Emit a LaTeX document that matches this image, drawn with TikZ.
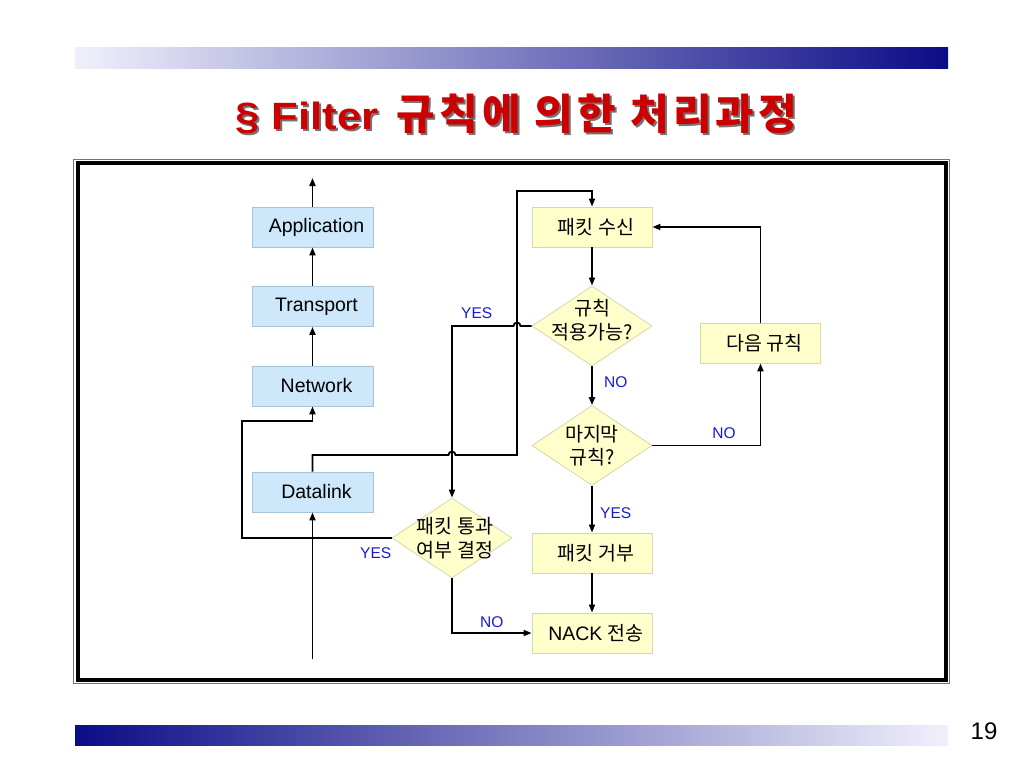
\documentclass[tikz,border=0pt]{standalone}
\usepackage{fontspec}
\setmainfont{Liberation Sans}
\newfontfamily\kr{Noto Sans CJK KR}
\newfontfamily\krtitle{Noto Sans CJK KR}[LetterSpace=10]
\newfontfamily\titlefont{Liberation Sans}[FakeStretch=1.15]
\usetikzlibrary{shapes.geometric,arrows.meta,positioning}
\definecolor{layerblue}{RGB}{204,232,250}
\definecolor{layerline}{RGB}{165,195,218}
\definecolor{stepyellow}{RGB}{255,255,204}
\definecolor{stepline}{RGB}{215,215,170}
\definecolor{navy}{RGB}{12,12,135}
\definecolor{lavender}{RGB}{240,240,252}
\definecolor{titlered}{RGB}{204,0,0}
\definecolor{labelblue}{RGB}{25,25,215}

\begin{document}
\begin{tikzpicture}[
    x=1pt, y=-1pt,
    layer/.style={rectangle, draw=layerline, fill=layerblue, line width=0.8pt, minimum width=121pt, minimum height=40pt, inner sep=0pt, font=\fontsize{19.5}{24}\selectfont, execute at begin node=\kern8pt},
    stepbox/.style={layer, draw=stepline, fill=stepyellow, minimum width=120pt},
    decision/.style={diamond, draw=stepline, fill=stepyellow, line width=0.8pt, minimum width=120pt, minimum height=80pt, inner sep=0pt},
    dtext/.style={font=\fontsize{19.5}{23.5}\selectfont\kr, align=center, inner sep=0pt},
    answer/.style={font=\fontsize{15.5}{18}\selectfont, text=labelblue, inner sep=0pt},
    heading/.style={font=\bfseries\fontsize{38}{44}\selectfont, anchor=base},
    flow/.style={-{Triangle[length=8pt,width=6pt]}, line width=1.8pt}
]

\useasboundingbox[fill=white] (0,0) rectangle (1024,768);

\shade[left color=lavender, right color=navy] (75,48) rectangle (948,68);
\shade[left color=navy, right color=lavender] (75,725) rectangle (948,745);
\node[font=\fontsize{24}{28}\selectfont] (page) at (984,731) {19};

\node[heading, text=black!55] (titleshadow) at (518.5,131.5) {\titlefont§ Filter\hspace{18pt}{\krtitle\fontsize{42}{46}\selectfont 규칙에 의한 처리과정}};
\node[heading, text=titlered] (title) at (516.5,129.5) {\titlefont§ Filter\hspace{18pt}{\krtitle\fontsize{42}{46}\selectfont 규칙에 의한 처리과정}};

\draw[line width=1pt, black!55] (73.5,159) rectangle (949.5,683);
\draw[line width=4pt] (78,163) rectangle (946,679.5);

\node[layer] (app) at (312.5,227) {Application};
\node[layer] (transport) at (312.5,306.5) {Transport};
\node[layer] (network) at (312.5,386) {Network};
\node[layer] (datalink) at (312.5,492) {Datalink};
\coordinate (top) at (312.5,178);
\coordinate (feed) at (312.5,659);

\node[stepbox] (recv) at (592,227) {\kr 패킷 수신};
\node[decision, label={[dtext, yshift=6pt]center:규칙\\적용가능?}] (apply) at (592,326) {};
\node[decision, label={[dtext]center:마지막\\규칙?}] (last) at (592,445.5) {};
\node[stepbox] (nextrule) at (760.5,343) {\kr 다음 규칙};
\node[stepbox] (reject) at (592,553) {\kr 패킷 거부};
\node[stepbox] (nack) at (592,633) {NACK {\kr 전송}};
\node[decision, label={[dtext, xshift=3pt]center:패킷 통과\\여부 결정}] (pass) at (452,538) {};

\node[answer] (yesapply) at (476.7,313.3) {YES};
\node[answer] (noapply) at (615.7,381.7) {NO};
\node[answer] (nolast) at (724,433) {NO};
\node[answer] (yeslast) at (615.7,512.7) {YES};
\node[answer] (yespass) at (375.7,552.7) {YES};
\node[answer] (nopass) at (491.7,621.7) {NO};

\draw[flow] (feed) -- (datalink.south);
\draw[flow] (network.north) -- (transport.south);
\draw[flow] (transport.north) -- (app.south);
\draw[flow] (app.north) -- (top);
\draw[flow] (datalink.north) |- (448.5,455) arc (180:360:3.5) -- (517,455) -- (517,191) -| (recv.north);
\draw[flow] (pass.west) -| (242,421) -| (network.south);

\draw[flow] (recv.south) -- (apply.north);
\draw[flow] (apply.west) -- (520.5,326) arc (0:-180:3.5) -| (pass.north);
\draw[flow] (apply.south) -- (last.north);
\draw[flow] (last.east) -| (nextrule.south);
\draw[flow] (nextrule.north) |- (recv.east);
\draw[flow] (last.south) -- (reject.north);
\draw[flow] (reject.south) -- (nack.north);
\draw[flow] (pass.south) |- (nack.west);

\end{tikzpicture}
\end{document}
